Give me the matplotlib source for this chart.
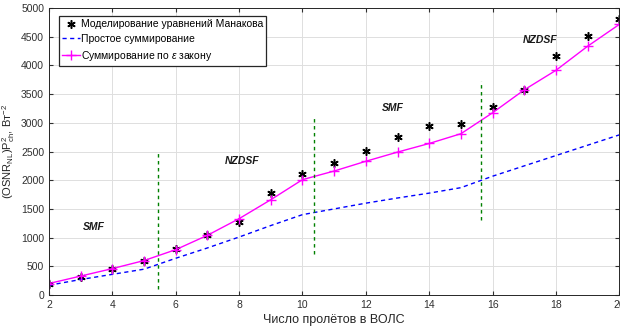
import numpy as np
import matplotlib
matplotlib.use('Agg')
import matplotlib.pyplot as plt

plt.rcParams['font.family'] = ['Liberation Sans', 'DejaVu Sans']
plt.rcParams['mathtext.fontset'] = 'custom'
plt.rcParams['mathtext.rm'] = 'Liberation Sans'
plt.rcParams['mathtext.it'] = 'Liberation Sans:italic'

spans = np.arange(2, 21)
manakov = [200, 320, 460, 600, 800, 1040, 1270, 1780, 2100, 2300,
           2510, 2750, 2950, 2980, 3280, 3580, 4160, 4520, 4800]
simple_sum = [170, 270, 360, 450, 640, 820, 1010, 1210, 1400, 1500,
              1600, 1690, 1775, 1870, 2070, 2250, 2430, 2610, 2790]
eps_sum = [200, 330, 460, 600, 790, 1040, 1330, 1660, 2010, 2160,
           2330, 2490, 2640, 2810, 3175, 3575, 3915, 4335, 4715]

# границы участков волокна
borders_x = [5.43, 10.37, 15.63]
borders_y = [(100, 2500), (720, 3120), (1300, 3730)]
fiber_labels = ['SMF', 'NZDSF', 'SMF', 'NZDSF']
fiber_pos = [(3.4, 1190), (8.1, 2330), (12.85, 3260), (17.5, 4440)]

fig = plt.figure(figsize=(6.2, 3.28), dpi=100)
ax = fig.add_axes([0.079, 0.1006, 0.92, 0.875])

ax.plot(spans, manakov, linestyle='none', marker=(6, 2, 0), markersize=6,
        markeredgewidth=1.1, color='black',
        label='Моделирование уравнений Манакова')
ax.plot(spans, simple_sum, '--', color='blue', linewidth=1.0,
        dashes=(3, 2.5), label='Простое суммирование')
ax.plot(spans, eps_sum, '-', marker='+', markersize=6.5, color='magenta',
        linewidth=1.0, markeredgewidth=1.0,
        label=r'Суммирование по $\epsilon$ закону')

for bx, (y0, y1) in zip(borders_x, borders_y):
    ax.plot([bx, bx], [y0, y1], '--', color='green', linewidth=1.0,
            dashes=(2.5, 2.5))

for txt, (tx, ty) in zip(fiber_labels, fiber_pos):
    ax.text(tx, ty, txt, fontsize=7.5, fontweight='bold', style='italic',
            ha='center', va='center', color='#1a1a1a')

ax.set_xlim(2, 20)
ax.set_ylim(0, 5000)
ax.set_xticks(np.arange(2, 21, 2))
ax.set_yticks(np.arange(0, 5001, 500))
ax.tick_params(direction='in', top=True, right=True, labelsize=7.5,
               length=3, colors='#303030')
ax.grid(True, color='#dedede', linewidth=0.7)
for s in ax.spines.values():
    s.set_color('#262626')
    s.set_linewidth(0.7)

ax.set_xlabel('Число пролётов в ВОЛС', fontsize=9, color='#262626',
              labelpad=3)
ax.set_ylabel(r'(OSNR$_{\rm NL}$)P$^{2}_{\rm ch}$, Вт$^{-2}$', fontsize=8,
              color='#262626', labelpad=3)

leg = ax.legend(loc='upper left', fontsize=7.5, fancybox=False,
                framealpha=1, edgecolor='#262626', handlelength=1.7,
                handletextpad=0.1, borderpad=0.3, labelspacing=0.45,
                borderaxespad=0.5, bbox_to_anchor=(0.008, 0.99))
leg.get_frame().set_linewidth(0.9)

fig.savefig('out.png', dpi=100)
